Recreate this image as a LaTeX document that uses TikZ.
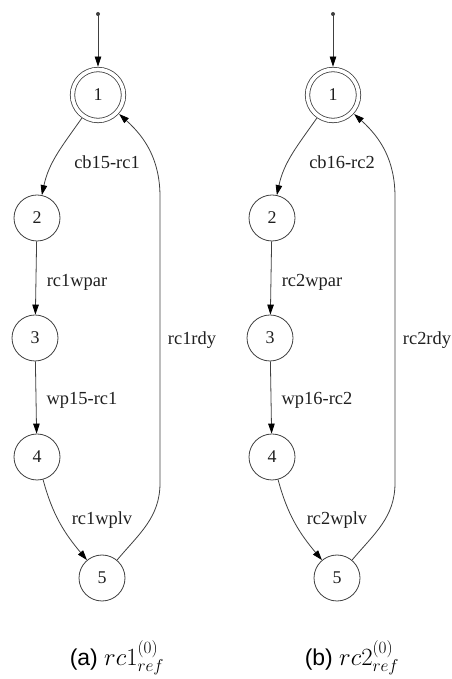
\documentclass[tikz,border=0pt]{standalone}
\usepackage{fontspec}
\setmainfont{Liberation Serif}
\setsansfont{Liberation Sans}
\usetikzlibrary{arrows.meta}
\definecolor{edgegray}{gray}{0.25}
\definecolor{txt}{gray}{0.12}
\begin{document}
\begin{tikzpicture}[x=1bp,y=1bp,
  state/.style={circle,draw=edgegray,line width=0.8bp,minimum size=46bp,inner sep=0pt,
    font=\fontsize{18}{20}\selectfont,text=txt},
  startstate/.style={state,double,double distance=3.6bp,minimum size=51bp,outer sep=2.9bp},
  trans/.style={draw=edgegray,line width=0.8bp,-{Triangle[length=10bp,width=6.5bp,color=black]}},
  lbl/.style={font=\fontsize{18.5}{20}\selectfont,text=txt,inner sep=0pt},
  caption/.style={font=\sffamily\fontsize{23}{28}\selectfont,inner sep=0pt,anchor=base}]
\useasboundingbox (0,0) rectangle (452,679);

\foreach \p/\dx/\ea/\eb/\ec/\ed/\ee/\nm in {%
  a/0/cb15-rc1/rc1wpar/wp15-rc1/rc1wplv/rc1rdy/{(a)~$rc1^{(0)}_{ref}$},%
  b/235/cb16-rc2/rc2wpar/wp16-rc2/rc2wplv/rc2rdy/{(b)~$rc2^{(0)}_{ref}$}}{
  % initial marker
  \fill[edgegray] (98+\dx,665) circle (2bp) coordinate (\p0);
  % states
  \node[startstate] (\p1) at (98+\dx,584) {1};
  \node[state] (\p2) at (37+\dx,461) {2};
  \node[state] (\p3) at (35+\dx,341) {3};
  \node[state] (\p4) at (37+\dx,222) {4};
  \node[state] (\p5) at (102+\dx,101) {5};
  % bends of the return edge
  \coordinate (\p r1) at (160+\dx,196);
  \coordinate (\p r2) at (160+\dx,482);
  % transitions
  \draw[trans] (\p0) -- (\p1);
  \draw[trans] (\p1) to[out=235,in=78] (\p2);
  \draw[trans] (\p2) -- (\p3);
  \draw[trans] (\p3) -- (\p4);
  \draw[trans] (\p4) to[out=-75,in=130] (\p5);
  \draw[trans] (\p5) to[out=50,in=-90] (\p r1) -- (\p r2) to[out=90,in=-42] (\p1);
  % transition labels
  \node[lbl] at (107+\dx,517) {\ea};
  \node[lbl] at (77+\dx,397) {\eb};
  \node[lbl] at (82+\dx,279) {\ec};
  \node[lbl] at (102+\dx,159) {\ed};
  \node[lbl] at (192+\dx,339) {\ee};
  % caption
  \node[caption] at (117+\dx,13) {\nm};
}
\end{tikzpicture}
\end{document}
